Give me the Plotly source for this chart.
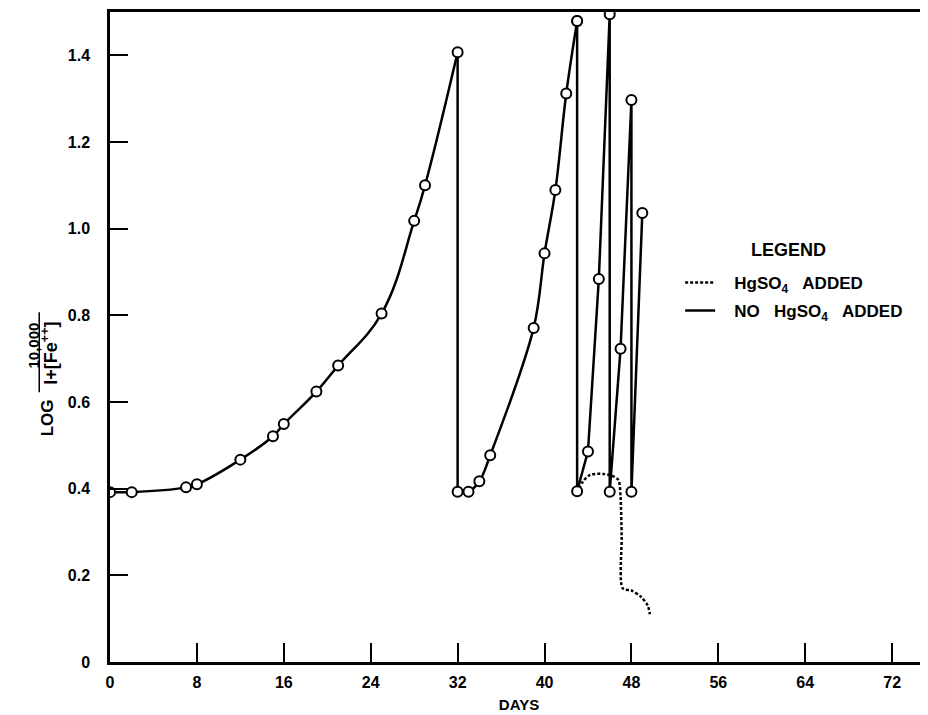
import plotly.graph_objects as go

# ---- data ----
growth1_days = [0, 2, 7, 8, 12, 15, 16, 19, 21, 25, 28, 29, 32]
growth1_vals = [0.392, 0.392, 0.403, 0.41, 0.467, 0.521, 0.549, 0.624, 0.684, 0.804, 1.018, 1.10, 1.407]

growth2_days = [32, 33, 34, 35, 39, 40, 41, 42, 43]
growth2_vals = [0.393, 0.393, 0.417, 0.477, 0.771, 0.943, 1.089, 1.312, 1.479]

final_days = [43, 43, 44, 45, 46, 46, 47, 48, 48, 49]
final_vals = [1.479, 0.394, 0.486, 0.884, 1.495, 0.393, 0.723, 1.297, 0.393, 1.036]

hg_days = [43, 43.5, 44.2, 45.4, 46.2, 46.8, 47.0, 47.1, 47.2, 48.0, 48.9, 49.5, 49.7]
hg_vals = [0.39, 0.415, 0.432, 0.434, 0.43, 0.42, 0.38, 0.29, 0.17, 0.165, 0.15, 0.13, 0.11]

x_ticks = [0, 8, 16, 24, 32, 40, 48, 56, 64, 72]
y_ticks = [0, 0.2, 0.4, 0.6, 0.8, 1.0, 1.2, 1.4]
y_ticktext = ["0", "0.2", "0.4", "0.6", "0.8", "1.0", "1.2", "1.4"]

FONT = "Liberation Sans"
NB = "\u00a0"

marker = dict(symbol="circle", size=10, color="white", line=dict(color="black", width=2))
line_solid = dict(color="black", width=2.5)

fig = go.Figure()

# vertical drop at day 32 (from end of first curve to start of second)
fig.add_trace(go.Scatter(
    x=[growth1_days[-1], growth2_days[0]], y=[growth1_vals[-1], growth2_vals[0]],
    mode="lines", line=line_solid, showlegend=False, hoverinfo="skip"))

# HgSO4 added (dashed)
fig.add_trace(go.Scatter(
    x=hg_days, y=hg_vals, mode="lines",
    line=dict(color="black", width=2.5, dash="3px,2px", shape="spline", smoothing=0.8),
    name=NB * 3 + "HgSO<sub>4</sub>" + NB * 3 + "ADDED", legendgroup="a", showlegend=True))

# legend entry for the solid series
fig.add_trace(go.Scatter(
    x=[None], y=[None], mode="lines", line=line_solid,
    name=NB * 3 + "NO" + NB * 3 + "HgSO<sub>4</sub>" + NB * 3 + "ADDED", legendgroup="b",
    showlegend=True))

fig.add_trace(go.Scatter(
    x=growth1_days, y=growth1_vals, mode="lines+markers",
    line=dict(color="black", width=2.5, shape="spline", smoothing=1.2),
    marker=marker, showlegend=False))

fig.add_trace(go.Scatter(
    x=growth2_days, y=growth2_vals, mode="lines+markers",
    line=dict(color="black", width=2.5, shape="spline", smoothing=1.0),
    marker=marker, showlegend=False))

fig.add_trace(go.Scatter(
    x=final_days, y=final_vals, mode="lines+markers",
    line=line_solid, marker=marker, showlegend=False))

fig.update_layout(
    width=920, height=707,
    margin=dict(l=102, r=0, t=4, b=53, autoexpand=False),
    paper_bgcolor="white", plot_bgcolor="white",
    font=dict(family=FONT, size=15, color="black", weight="bold"),
    legend=dict(
        x=0.697, y=0.611, xanchor="left", yanchor="top",
        bgcolor="rgba(0,0,0,0)", tracegroupgap=3,
        traceorder="grouped", font=dict(size=17),
    ),
    xaxis=dict(
        range=[0, 75.3], tickvals=x_ticks, ticks="inside", ticklen=19, tickwidth=2,
        tickcolor="black", showline=True, linecolor="black", linewidth=2.5, mirror=True,
        showgrid=False, zeroline=False, ticklabelstandoff=4, automargin=False,
        tickfont=dict(size=16),
        title=dict(text="DAYS", font=dict(size=15), standoff=10),
    ),
    yaxis=dict(
        range=[0, 1.5], tickvals=y_ticks, ticktext=y_ticktext, ticks="inside",
        ticklen=18, tickwidth=2, tickcolor="black", showline=True, linecolor="black",
        linewidth=2.5, mirror=False, showgrid=False, zeroline=False, ticklabelstandoff=14,
        automargin=False, tickfont=dict(size=16),
    ),
)

# legend heading
fig.add_annotation(text="LEGEND", xref="paper", yref="paper", x=0.829, y=0.634,
                   showarrow=False, font=dict(size=18), xanchor="center", yanchor="middle")

# y-axis title: LOG 10,000 / (1+[Fe++]) written vertically
fig.add_annotation(text="LOG", xref="paper", yref="paper", x=-0.077, y=0.375,
                   textangle=-90, showarrow=False, font=dict(size=17),
                   xanchor="center", yanchor="middle")
fig.add_annotation(text="10,000", xref="paper", yref="paper", x=-0.094, y=0.487,
                   textangle=-90, showarrow=False, font=dict(size=15),
                   xanchor="center", yanchor="middle")
fig.add_annotation(text="I+[Fe<sup>++</sup>]", xref="paper", yref="paper", x=-0.074, y=0.475,
                   textangle=-90, showarrow=False, font=dict(size=18),
                   xanchor="center", yanchor="middle")
fig.add_shape(type="line", xref="paper", yref="paper", x0=-0.0865, x1=-0.0865,
              y0=0.415, y1=0.538, line=dict(color="black", width=1.5))

fig.write_html("out.html")
